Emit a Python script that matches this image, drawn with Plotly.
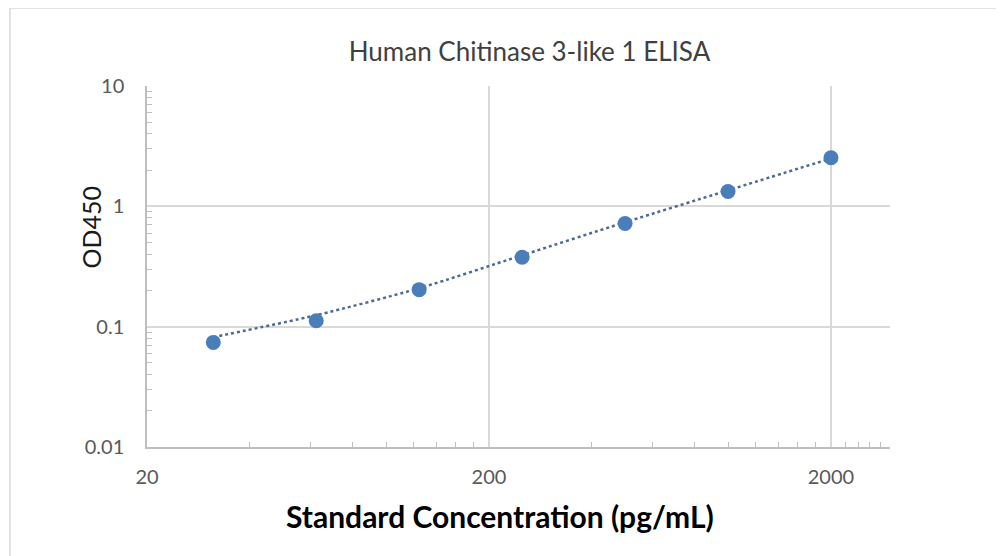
import plotly.graph_objects as go
import math

# Data
concentration = [31.25, 62.5, 125, 250, 500, 1000, 2000]
od450 = [0.074, 0.112, 0.203, 0.378, 0.72, 1.33, 2.53]

# Trendline values (dotted curve)
trend_x = [31.25, 62.5, 125, 250, 500, 1000, 2000]
trend_y = [0.0818, 0.1246, 0.2087, 0.392, 0.737, 1.358, 2.50]

x_tick_vals = [20, 200, 2000]
x_tick_text = ["20", "200", "2000"]
y_tick_vals = [0.01, 0.1, 1, 10]
y_tick_text = ["0.01", "0.1", "1", "10"]

title_text = "Human Chitinase 3-like 1 ELISA"
x_title = "Standard Concentration (pg/mL)"
y_title = "OD450"

x_minor = list(range(40, 200, 20)) + list(range(400, 2000, 200)) + [2200, 2400, 2600, 2800]
y_minor = [k * 10.0 ** d for d in (-2, -1, 0) for k in range(2, 10)]

# Layout geometry (figure placed at 8px page offset)
L, T, PW, PH = 139, 78, 743, 361
FW, FH = 996, 548

fig = go.Figure()
fig.add_trace(go.Scatter(
    x=trend_x, y=trend_y, mode="lines",
    line=dict(color="#4f6a92", width=2.5, dash="dot", shape="spline", smoothing=0.8),
    hoverinfo="skip", showlegend=False,
))
fig.add_trace(go.Scatter(
    x=concentration, y=od450, mode="markers",
    marker=dict(color="#4a7ebb", size=15),
    showlegend=False,
))

FONT = "Lato, Carlito, Open Sans, sans-serif"
axis_font = dict(family=FONT, size=20, color="#595959")

def px_x(sx):
    return (sx - 147) / PW

def px_y(sy):
    return (447 - sy) / PH

fig.update_layout(
    width=FW, height=FH,
    margin=dict(l=L, r=FW - L - PW, t=T, b=FH - T - PH),
    paper_bgcolor="white", plot_bgcolor="white",
    title=dict(text=title_text, x=(529.5 - 8) / FW, xanchor="center",
               y=1 - (52 - 8) / FH, yanchor="middle",
               font=dict(family=FONT, size=26, color="#404040")),
    xaxis=dict(
        type="log", range=[math.log10(20), math.log10(2976)],
        tickvals=x_tick_vals, ticktext=x_tick_text,
        showgrid=True, gridcolor="#d9d9d9", gridwidth=1.5,
        showline=True, linecolor="#bfbfbf", linewidth=1.5,
        ticks="", tickfont=axis_font, ticklabelstandoff=11,
        zeroline=False,
        minor=dict(tickvals=x_minor, ticks="inside", ticklen=5, tickcolor="#bfbfbf", showgrid=False),
    ),
    yaxis=dict(
        type="log", range=[-2, 1],
        tickvals=y_tick_vals, ticktext=y_tick_text,
        showgrid=True, gridcolor="#d9d9d9", gridwidth=1.5,
        showline=True, linecolor="#bfbfbf", linewidth=1.5,
        ticks="", tickfont=axis_font, ticklabelstandoff=17,
        zeroline=False,
        minor=dict(tickvals=y_minor, ticks="inside", ticklen=5, tickcolor="#bfbfbf", showgrid=False),
    ),
    annotations=[
        dict(text=x_title, xref="paper", yref="paper", x=px_x(499.5), y=px_y(516),
             xanchor="center", yanchor="middle", showarrow=False,
             font=dict(family=FONT, size=30, color="#000000", weight="bold")),
        dict(text=y_title, xref="paper", yref="paper", x=px_x(90), y=px_y(227.5),
             xanchor="center", yanchor="middle", showarrow=False, textangle=-90,
             font=dict(family=FONT, size=25, color="#1a1a1a")),
    ],
    shapes=[dict(type="rect", xref="paper", yref="paper",
                 x0=px_x(10), x1=px_x(1010),
                 y0=px_y(560), y1=px_y(8),
                 line=dict(color="#d9d9d9", width=1.5), fillcolor="rgba(0,0,0,0)", layer="below")],
)

fig.write_html("out.html")
